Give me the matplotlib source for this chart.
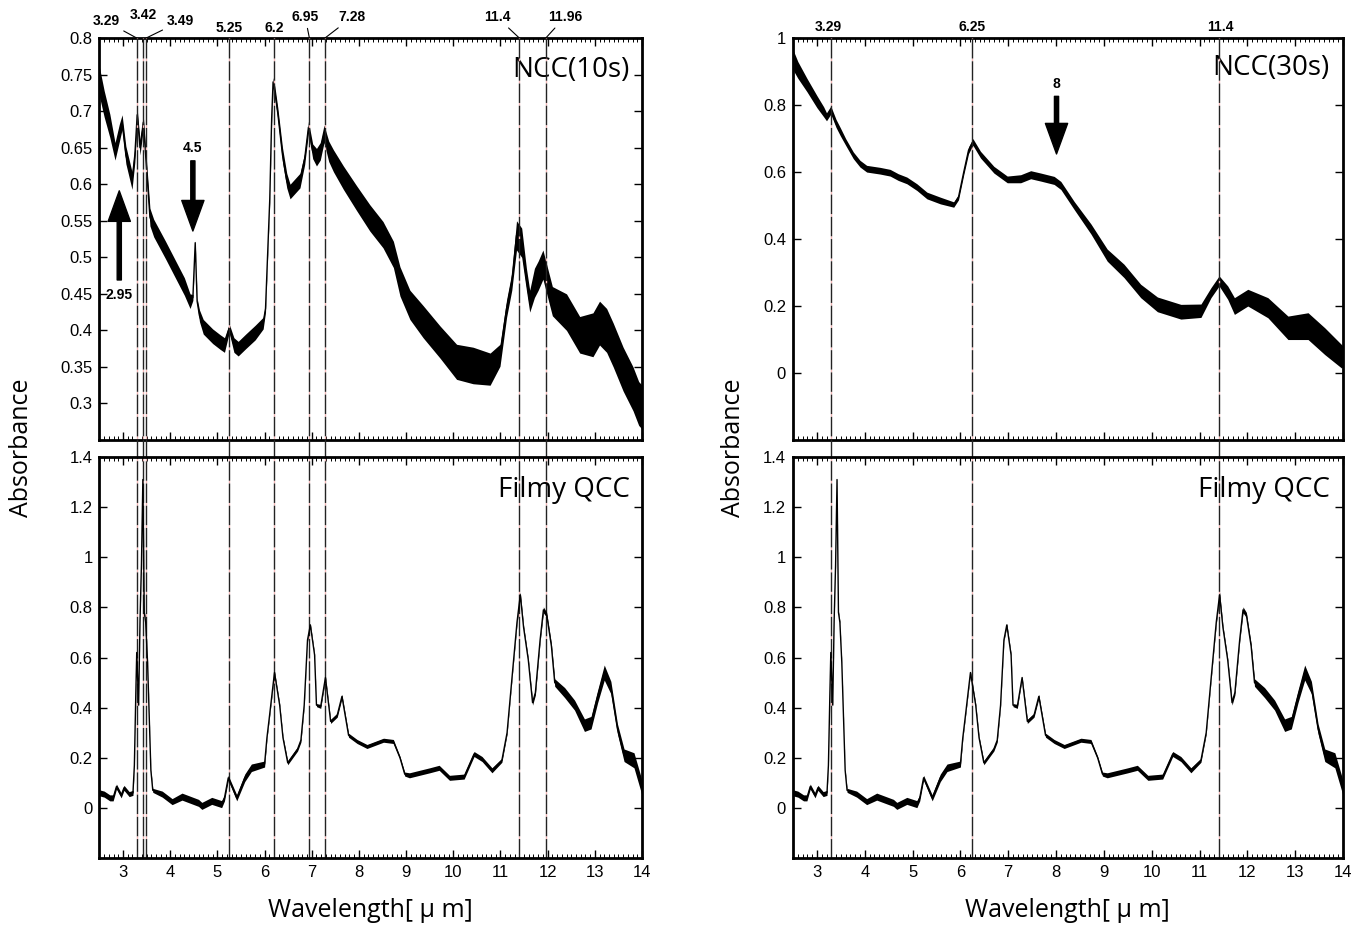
import numpy as np
import matplotlib
matplotlib.use('Agg')
import matplotlib.pyplot as plt
from matplotlib.ticker import FixedLocator, MultipleLocator, FormatStrFormatter

# --- spectra (wavelength in um, absorbance, noise half-width) ---
ncc10_wl = [2.5, 2.6, 2.72, 2.83, 2.92, 2.98, 3.06, 3.19, 3.25, 3.30, 3.36, 3.43, 3.5, 3.57,
            3.65, 3.9, 4.14, 4.3, 4.42, 4.48, 4.53, 4.57, 4.62, 4.70, 4.9, 5.06, 5.15, 5.25,
            5.35, 5.44, 5.6, 5.8, 5.97, 6.02, 6.05, 6.11, 6.15, 6.18, 6.22, 6.28, 6.38, 6.47,
            6.54, 6.75, 6.85, 6.93, 7.02, 7.10, 7.18, 7.26, 7.36, 7.46, 7.67, 7.95, 8.23, 8.51,
            8.73, 8.87, 9.08, 9.36, 9.72, 10.07, 10.42, 10.78, 10.99, 11.13, 11.24, 11.34, 11.45,
            11.55, 11.62, 11.72, 11.8, 11.9, 12.0, 12.1, 12.4, 12.68, 12.96, 13.1, 13.25, 13.39,
            13.6, 13.81, 13.93, 14.0]
ncc10_abs = [0.74, 0.71, 0.68, 0.645, 0.67, 0.685, 0.64, 0.605, 0.64, 0.695, 0.65, 0.685, 0.62, 0.555,
             0.54, 0.51, 0.48, 0.46, 0.44, 0.445, 0.52, 0.44, 0.42, 0.405, 0.392, 0.384, 0.38, 0.403,
             0.38, 0.375, 0.385, 0.397, 0.41, 0.43, 0.48, 0.58, 0.69, 0.74, 0.725, 0.697, 0.64, 0.605,
             0.59, 0.605, 0.635, 0.678, 0.645, 0.637, 0.645, 0.669, 0.645, 0.632, 0.609, 0.581, 0.554, 0.531,
             0.504, 0.467, 0.435, 0.412, 0.384, 0.357, 0.352, 0.347, 0.366, 0.43, 0.467, 0.53, 0.52,
             0.47, 0.44, 0.465, 0.475, 0.49, 0.465, 0.44, 0.425, 0.394, 0.394, 0.41, 0.40, 0.38,
             0.347, 0.32, 0.30, 0.295]
ncc10_noise = [0.02, 0.018, 0.016, 0.012, 0.012, 0.01, 0.012, 0.012, 0.01, 0.008, 0.01, 0.008, 0.01, 0.012,
               0.012, 0.012, 0.012, 0.012, 0.01, 0.004, 0.003, 0.004, 0.008, 0.01, 0.01, 0.01, 0.01, 0.006,
               0.01, 0.01, 0.01, 0.01, 0.008, 0.005, 0.004, 0.004, 0.006, 0.006, 0.008, 0.008, 0.01, 0.01,
               0.01, 0.01, 0.008, 0.008, 0.01, 0.012, 0.012, 0.012, 0.014, 0.015, 0.016, 0.017, 0.018, 0.018,
               0.018, 0.02, 0.02, 0.022, 0.022, 0.024, 0.025, 0.022, 0.015, 0.012, 0.012, 0.02, 0.02,
               0.015, 0.015, 0.02, 0.02, 0.02, 0.02, 0.02, 0.025, 0.025, 0.03, 0.03, 0.03, 0.03,
               0.03, 0.03, 0.03, 0.03]

ncc30_wl = [2.5, 2.6, 2.79, 3.0, 3.14, 3.2, 3.29, 3.4, 3.49, 3.6, 3.76, 3.9, 4.04, 4.32, 4.53,
            4.7, 4.88, 5.09, 5.3, 5.58, 5.86, 5.96, 6.07, 6.17, 6.26, 6.42, 6.7, 6.98, 7.26, 7.47,
            7.68, 7.96, 8.1, 8.38, 8.73, 9.07, 9.42, 9.77, 10.12, 10.61, 11.03, 11.24, 11.41, 11.59,
            11.73, 12.01, 12.43, 12.85, 13.27, 13.62, 13.97, 14.0]
ncc30_abs = [0.935, 0.905, 0.86, 0.81, 0.78, 0.765, 0.785, 0.745, 0.72, 0.69, 0.65, 0.625, 0.61, 0.604, 0.598,
             0.585, 0.575, 0.555, 0.53, 0.515, 0.503, 0.525, 0.6, 0.665, 0.69, 0.652, 0.607, 0.578, 0.58, 0.592,
             0.585, 0.575, 0.56, 0.5, 0.43, 0.352, 0.305, 0.245, 0.205, 0.183, 0.186, 0.24, 0.275, 0.24,
             0.2, 0.225, 0.195, 0.135, 0.14, 0.095, 0.05, 0.05]
ncc30_noise = [0.03, 0.025, 0.02, 0.018, 0.015, 0.012, 0.012, 0.012, 0.012, 0.01, 0.01, 0.01, 0.01, 0.01, 0.01,
               0.01, 0.01, 0.01, 0.01, 0.01, 0.008, 0.008, 0.008, 0.01, 0.01, 0.01, 0.01, 0.01, 0.012, 0.012,
               0.012, 0.012, 0.012, 0.012, 0.015, 0.018, 0.02, 0.02, 0.022, 0.022, 0.02, 0.015, 0.015, 0.02,
               0.025, 0.025, 0.03, 0.035, 0.04, 0.04, 0.035, 0.03]

qcc_wl = [2.5, 2.6, 2.72, 2.79, 2.86, 2.96, 3.02, 3.13, 3.21, 3.24, 3.27, 3.29, 3.33, 3.36, 3.39,
          3.42, 3.45, 3.48, 3.52, 3.59, 3.63, 3.83, 4.04, 4.25, 4.6, 4.67, 4.88, 5.09, 5.15, 5.23,
          5.41, 5.58, 5.72, 6.0, 6.05, 6.1, 6.21, 6.32, 6.39, 6.49, 6.7, 6.77, 6.84, 6.91, 6.97,
          7.06, 7.1, 7.19, 7.29, 7.4, 7.54, 7.64, 7.78, 7.96, 8.17, 8.52, 8.73, 8.87, 8.97, 9.07,
          9.5, 9.7, 9.92, 10.23, 10.44, 10.61, 10.82, 11.03, 11.14, 11.24, 11.35, 11.42, 11.49,
          11.59, 11.68, 11.74, 11.84, 11.91, 11.98, 12.08, 12.15, 12.36, 12.57, 12.78, 12.92,
          13.06, 13.2, 13.34, 13.48, 13.62, 13.83, 14.0]
qcc_abs = [0.06, 0.055, 0.04, 0.04, 0.085, 0.05, 0.08, 0.055, 0.06, 0.17, 0.45, 0.62, 0.41, 0.75, 0.97,
           1.31, 0.78, 0.74, 0.58, 0.15, 0.07, 0.055, 0.025, 0.045, 0.02, 0.008, 0.028, 0.015, 0.04, 0.12,
           0.04, 0.12, 0.16, 0.175, 0.28, 0.36, 0.54, 0.41, 0.28, 0.18, 0.235, 0.27, 0.41, 0.67, 0.73,
           0.61, 0.41, 0.405, 0.52, 0.345, 0.37, 0.445, 0.29, 0.265, 0.245, 0.27, 0.265, 0.2, 0.135, 0.13,
           0.15, 0.16, 0.12, 0.125, 0.215, 0.195, 0.15, 0.19, 0.3, 0.51, 0.74, 0.85, 0.72,
           0.59, 0.42, 0.46, 0.67, 0.79, 0.77, 0.645, 0.5, 0.46, 0.41, 0.33, 0.34,
           0.445, 0.54, 0.48, 0.315, 0.21, 0.19, 0.08]
qcc_noise = [0.012, 0.012, 0.012, 0.012, 0.01, 0.01, 0.01, 0.01, 0.01, 0.005, 0.005, 0.005, 0.005, 0.005, 0.005,
             0.005, 0.005, 0.005, 0.005, 0.005, 0.008, 0.012, 0.012, 0.014, 0.014, 0.014, 0.014, 0.014, 0.012, 0.01,
             0.012, 0.015, 0.015, 0.012, 0.006, 0.006, 0.006, 0.006, 0.006, 0.008, 0.008, 0.008, 0.006, 0.006, 0.006,
             0.006, 0.006, 0.008, 0.006, 0.008, 0.008, 0.008, 0.008, 0.008, 0.008, 0.008, 0.008, 0.006, 0.008, 0.01,
             0.01, 0.01, 0.01, 0.01, 0.01, 0.01, 0.01, 0.008, 0.006, 0.006, 0.008, 0.012, 0.008,
             0.006, 0.01, 0.01, 0.008, 0.012, 0.01, 0.01, 0.015, 0.02, 0.02, 0.025, 0.025,
             0.025, 0.03, 0.025, 0.02, 0.025, 0.03, 0.03]

# marked band positions
left_peaks = [3.29, 3.42, 3.49, 5.25, 6.2, 6.95, 7.28, 11.4, 11.96]
left_peak_labels = ['3.29', '3.42', '3.49', '5.25', '6.2', '6.95', '7.28', '11.4', '11.96']
right_peaks = [3.29, 6.25, 11.4]
right_peak_labels = ['3.29', '6.25', '11.4']

# label offsets from the top of each line (points) and whether a leader is drawn
left_label_offsets = [(-22, 12), (0, 16.5), (24.5, 12), (0, 7.2), (0, 7.2), (-3, 15), (19.5, 15), (-16, 15), (13.7, 15)]
left_label_leader = [True, False, True, False, False, True, True, True, True]
right_label_offsets = [(-1.5, 8), (0, 8), (1, 8)]

xticks = list(range(3, 15))
ncc10_yticks = [0.3, 0.35, 0.4, 0.45, 0.5, 0.55, 0.6, 0.65, 0.7, 0.75, 0.8]
ncc30_yticks = [0, 0.2, 0.4, 0.6, 0.8, 1.0]
qcc_yticks = [0, 0.2, 0.4, 0.6, 0.8, 1.0, 1.2, 1.4]

TICK_FONT = 'Liberation Sans'
LABEL_FONT = 'Open Sans'

fig = plt.figure(figsize=(13.68, 9.26), dpi=100)

col_x = [(0.0727, 0.3966), (0.5797, 0.4020)]
top_row = (0.5248, 0.4341)
bot_row = (0.0734, 0.4331)


def style_axis(ax, yticks, ylim, show_xlabels):
    ax.set_xlim(2.5, 14)
    ax.set_ylim(*ylim)
    ax.xaxis.set_major_locator(FixedLocator(xticks))
    ax.xaxis.set_minor_locator(MultipleLocator(0.1))
    ax.yaxis.set_major_locator(FixedLocator(yticks))
    ax.yaxis.set_major_formatter(FormatStrFormatter('%g'))
    ax.xaxis.set_major_formatter(FormatStrFormatter('%g'))
    ax.tick_params(which='both', direction='in', top=True, right=True)
    ax.tick_params(which='major', length=6, width=1.0, labelsize=12, pad=5)
    ax.tick_params(which='minor', length=3, width=0.7)
    ax.tick_params(axis='x', labelbottom=show_xlabels)
    for lab in ax.get_xticklabels() + ax.get_yticklabels():
        lab.set_fontfamily(TICK_FONT)
    for sp in ax.spines.values():
        sp.set_linewidth(2)


def draw_spectrum(ax, wl, ab, noise):
    wl = np.array(wl)
    ab = np.array(ab)
    noise = np.array(noise)
    ax.fill_between(wl, ab - noise, ab + noise, color='black', lw=0, zorder=3)
    ax.plot(wl, ab, color='black', lw=1.0, zorder=3)


def draw_marker_lines(ax_top, ax_bot, peaks):
    # lines run from the bottom of the lower panel to the top of the upper panel
    b0 = ax_bot.get_position()
    t0 = ax_top.get_position()
    ymax = (t0.y1 - b0.y0) / b0.height
    for p in peaks:
        ax_bot.axvline(p, ymin=0, ymax=ymax, color='#222222', lw=1.0,
                       linestyle=(0, (14, 2)), gapcolor='#f3b9b9', clip_on=False, zorder=2)


def draw_peak_labels(ax, peaks, labels, offsets, leaders):
    for p, lab, off, lead in zip(peaks, labels, offsets, leaders):
        props = dict(arrowstyle='-', lw=0.8, color='black', shrinkA=1, shrinkB=0) if lead else None
        ax.annotate(lab, xy=(p, 1), xycoords=('data', 'axes fraction'), xytext=off,
                    textcoords='offset points', ha='center', va='center', fontsize=10,
                    fontweight='bold', family=TICK_FONT, arrowprops=props, annotation_clip=False)


axes = {}
for ci, (x0, w) in enumerate(col_x):
    ax_t = fig.add_axes([x0, top_row[0], w, top_row[1]])
    ax_b = fig.add_axes([x0, bot_row[0], w, bot_row[1]])
    axes[ci] = (ax_t, ax_b)

# left column
ax_t, ax_b = axes[0]
style_axis(ax_t, ncc10_yticks, (0.25, 0.8), False)
style_axis(ax_b, qcc_yticks, (-0.2, 1.4), True)
draw_spectrum(ax_t, ncc10_wl, ncc10_abs, ncc10_noise)
draw_spectrum(ax_b, qcc_wl, qcc_abs, qcc_noise)
draw_marker_lines(ax_t, ax_b, left_peaks)
draw_peak_labels(ax_t, left_peaks, left_peak_labels, left_label_offsets, left_label_leader)
ax_t.text(0.978, 0.92, 'NCC(10s)', transform=ax_t.transAxes, ha='right', va='center',
          fontsize=20, family=LABEL_FONT)
ax_b.text(0.978, 0.918, 'Filmy QCC', transform=ax_b.transAxes, ha='right', va='center',
          fontsize=20, family=LABEL_FONT)

arrow_kw = dict(facecolor='black', edgecolor='black', width=3, headwidth=16, headlength=22, shrink=0)
ax_t.annotate('', xy=(2.92, 0.591), xytext=(2.92, 0.469), arrowprops=arrow_kw)
ax_t.text(2.92, 0.449, '2.95', ha='center', va='center', fontsize=10, fontweight='bold', family=TICK_FONT)
ax_t.annotate('', xy=(4.48, 0.536), xytext=(4.48, 0.632), arrowprops=arrow_kw)
ax_t.text(4.48, 0.65, '4.5', ha='center', va='center', fontsize=10, fontweight='bold', family=TICK_FONT)

# right column
ax_t, ax_b = axes[1]
style_axis(ax_t, ncc30_yticks, (-0.2, 1.0), False)
style_axis(ax_b, qcc_yticks, (-0.2, 1.4), True)
draw_spectrum(ax_t, ncc30_wl, ncc30_abs, ncc30_noise)
draw_spectrum(ax_b, qcc_wl, qcc_abs, qcc_noise)
draw_marker_lines(ax_t, ax_b, right_peaks)
draw_peak_labels(ax_t, right_peaks, right_peak_labels, right_label_offsets, [False] * 3)
ax_t.text(0.976, 0.925, 'NCC(30s)', transform=ax_t.transAxes, ha='right', va='center',
          fontsize=20, family=LABEL_FONT)
ax_b.text(0.976, 0.918, 'Filmy QCC', transform=ax_b.transAxes, ha='right', va='center',
          fontsize=20, family=LABEL_FONT)
ax_t.annotate('', xy=(8.01, 0.654), xytext=(8.01, 0.826), arrowprops=arrow_kw)
ax_t.text(8.01, 0.862, '8', ha='center', va='center', fontsize=10, fontweight='bold', family=TICK_FONT)

# axis titles
for xc in (0.016, 0.536):
    fig.text(xc, 0.517, 'Absorbance', rotation=90, ha='center', va='center', fontsize=18, family=LABEL_FONT)
for xc in (0.271, 0.78):
    fig.text(xc, 0.017, 'Wavelength[ μ m]', ha='center', va='center', fontsize=18, family=LABEL_FONT)

fig.savefig('out.png', dpi=100)
